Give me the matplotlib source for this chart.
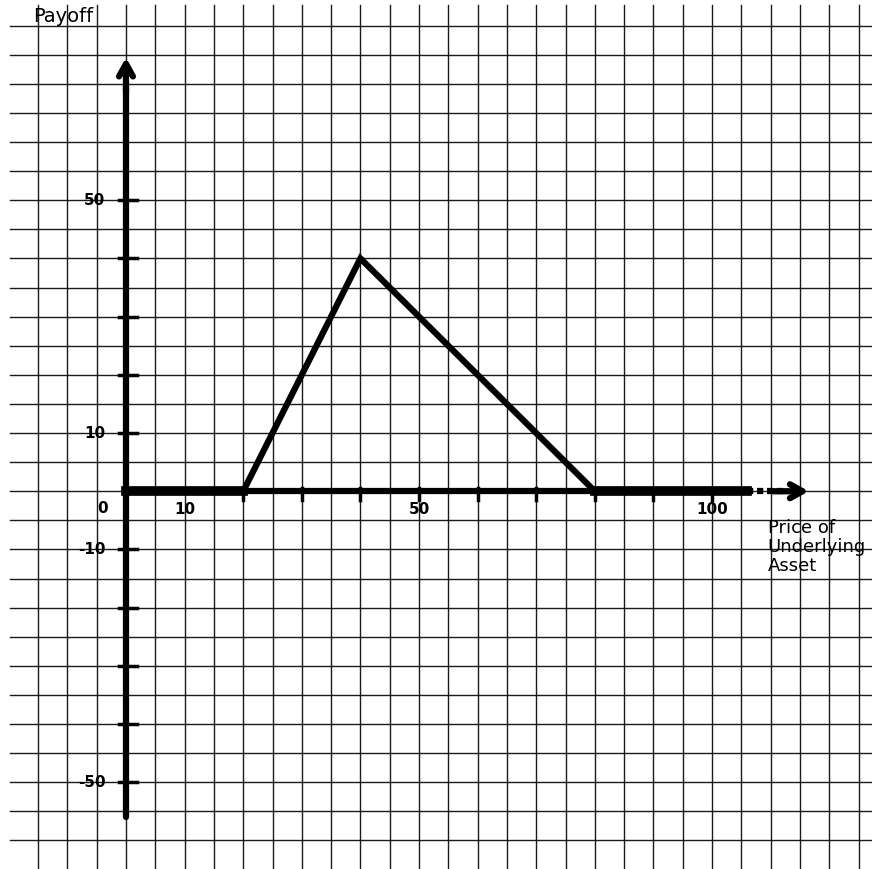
import numpy as np
import matplotlib
matplotlib.use("Agg")
import matplotlib.pyplot as plt

# Payoff data (price of underlying asset, payoff)
price = [0, 20, 40, 80, 106]
payoff = [0, 0, 40, 0, 0]
x_tick_vals = [20, 30, 40, 50, 60, 70, 80, 90, 100]
x_tick_labels = {10: "10", 50: "50", 100: "100"}
y_tick_vals = [50, 40, 30, 20, 10, -10, -20, -30, -40, -50]
y_tick_labels = {50: "50", 10: "10", -10: "-10", -50: "-50"}

fig = plt.figure(figsize=(8.72, 8.69), dpi=100)
ax = fig.add_axes([0, 0, 1, 1])
ax.set_xlim(-21.5, 127.3)
ax.set_ylim(-64.9, 84.4)
ax.axis("off")

# graph paper grid
for gx in np.arange(-15, 130, 5):
    ax.plot([gx, gx], [83.5, -70], color="#1a1a1a", lw=1.0, zorder=1)
for gy in np.arange(-60, 85, 5):
    ax.plot([-19.8, 130], [gy, gy], color="#1a1a1a", lw=1.0, zorder=1)

# axes
ax.plot([0, 0], [-56, 70], color="black", lw=4.5, solid_capstyle="round", zorder=3)
ax.annotate("", xy=(0, 75), xytext=(0, 68),
            arrowprops=dict(arrowstyle="->,head_width=0.5,head_length=0.9", lw=4.5, color="black"), zorder=3)
ax.plot([0, 106], [0, 0], color="black", lw=4.5, zorder=3)
ax.plot([106, 113], [0, 0], color="black", lw=4.5, ls=(0, (1, 0.6)), zorder=3)
ax.annotate("", xy=(117, 0), xytext=(110, 0),
            arrowprops=dict(arrowstyle="->,head_width=0.5,head_length=0.9", lw=4.5, color="black"), zorder=3)

# ticks
for t in x_tick_vals:
    ax.plot([t, t], [0.5, -1.5], color="black", lw=2.5, zorder=3)
for t in y_tick_vals:
    ax.plot([-1.2, 1.8], [t, t], color="black", lw=2.5, zorder=3)

# payoff line
ax.plot(price[:2], payoff[:2], color="black", lw=7, zorder=4)
ax.plot(price[1:4], payoff[1:4], color="black", lw=4.5, solid_joinstyle="miter", zorder=4)
ax.plot(price[3:], payoff[3:], color="black", lw=7, zorder=4)

# tick labels
for v, s in x_tick_labels.items():
    ax.text(v, -3.2, s, ha="center", va="center", fontsize=11, fontweight="bold", zorder=5)
ax.text(-4, -3, "0", ha="center", va="center", fontsize=11, fontweight="bold", zorder=5)
for v, s in y_tick_labels.items():
    ax.text(-3.5, v, s, ha="right", va="center", fontsize=11, fontweight="bold", zorder=5)

ax.text(-15.8, 81.6, "Payoff", ha="left", va="center", fontsize=14, zorder=5)
ax.text(109.5, -4.8, "Price of\nUnderlying\nAsset", ha="left", va="top",
        fontsize=13, linespacing=1.05, zorder=5)

fig.savefig("out.png", dpi=100, facecolor="white")
